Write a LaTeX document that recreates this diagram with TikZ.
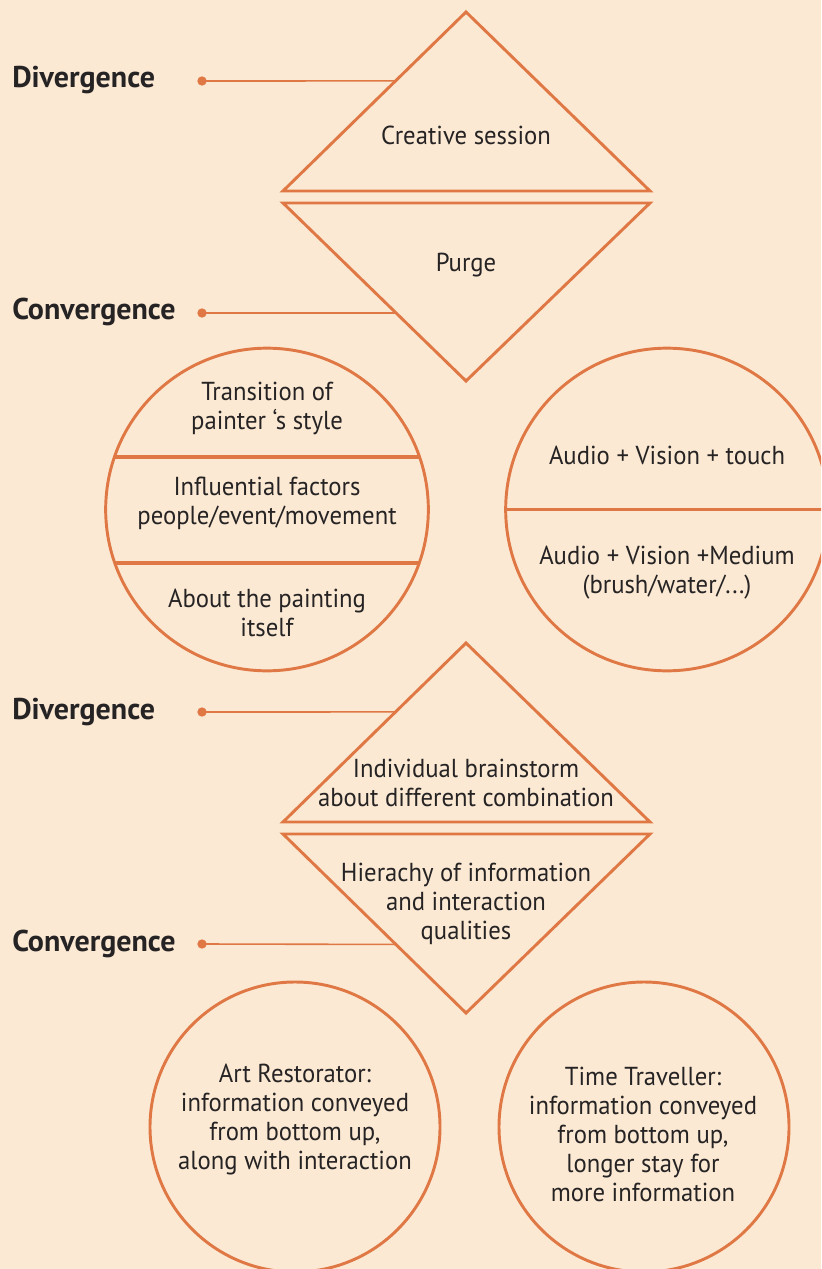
\documentclass[tikz,border=0pt]{standalone}
\usepackage{fontspec}
\setmainfont[FakeStretch=0.95]{PT Sans}
\newfontfamily\lblfont{PT Sans}
\usetikzlibrary{calc}
\definecolor{bg}{HTML}{FBE9D3}
\definecolor{org}{HTML}{E07845}
\definecolor{ink}{HTML}{262324}
\begin{document}
\begin{tikzpicture}[x=0.75pt,y=-0.75pt,
  shp/.style={draw=org, line width=2.2pt, line join=miter},
  divider/.style={draw=org, line width=2.8pt},
  leader/.style={draw=org, line width=1.2pt},
  dotn/.style={circle, fill=org, inner sep=0pt, minimum size=7pt},
  circ/.style={circle, draw=org, line width=2.2pt, inner sep=0pt},
  txt/.style={text=ink, font=\fontsize{19.5}{21.75}\selectfont, align=center, inner sep=0pt},
  lbl/.style={text=ink, font=\lblfont\bfseries\fontsize{22.5}{26}\selectfont, anchor=base west, inner sep=0pt}]
\clip (0,0) rectangle (821,1269);
\fill[bg] (0,0) rectangle (821,1269);

% ---- first diamond
\coordinate (t1a) at (466,12);
\coordinate (t1l) at (283,191);
\coordinate (t1r) at (650,191);
\draw[shp] (t1a) -- (t1r) -- (t1l) -- cycle;
\coordinate (t2l) at (283,203);
\coordinate (t2r) at (650,203);
\coordinate (t2b) at (466,381);
\draw[shp] (t2l) -- (t2r) -- (t2b) -- cycle;
\node[txt] (cs) at (466,135) {Creative session};
\node[txt] (pu) at (466,265) {Purge};

\node[lbl] (div1) at (12,88) {Divergence};
\node[dotn] (d1) at (202,81) {};
\coordinate (e1) at ($(t1a)!0.385!(t1l)$);
\draw[leader] (d1.center) -- (e1);
\node[lbl] (con1) at (12,320) {Convergence};
\node[dotn] (d2) at (202,313) {};
\coordinate (e2) at ($(t2l)!0.618!(t2b)$);
\draw[leader] (d2.center) -- (e2);

% ---- upper circles
\node[circ, minimum size=242pt] (c1) at (267,509.5) {};
\coordinate (c1a) at (115,457); \coordinate (c1b) at (419,457);
\coordinate (c1c) at (115,563); \coordinate (c1d) at (419,563);
\draw[divider] (c1a) -- (c1b);
\draw[divider] (c1c) -- (c1d);
\node[txt] (l1) at (267,408.5) {Transition of\\painter ‘s style};
\node[txt] (l2) at (267,503.5) {Influential factors\\people/event/movement};
\node[txt] (l3) at (267,612.5) {About the painting\\itself};

\node[circ, minimum size=242pt] (c2) at (667,509.5) {};
\coordinate (c2a) at (506,509.5); \coordinate (c2b) at (830,509.5);
\draw[divider] (c2a) -- (c2b);
\node[txt] (r1) at (667,455) {Audio + Vision + touch};
\node[txt] (r2) at (667,572.5) {Audio + Vision +Medium\\(brush/water/...)};

% ---- second diamond
\coordinate (t3a) at (466,643);
\coordinate (t3l) at (283,822);
\coordinate (t3r) at (650,822);
\draw[shp] (t3a) -- (t3r) -- (t3l) -- cycle;
\coordinate (t4l) at (283,834);
\coordinate (t4r) at (650,834);
\coordinate (t4b) at (466,1013);
\draw[shp] (t4l) -- (t4r) -- (t4b) -- cycle;
\node[txt] (ib) at (466,783) {Individual brainstorm\\about different combination};
\node[txt] (hi) at (466,903.5) {Hierachy of information\\and interaction\\qualities};

\node[lbl] (div2) at (12,719) {Divergence};
\node[dotn] (d3) at (202,712) {};
\coordinate (e3) at ($(t3a)!0.385!(t3l)$);
\draw[leader] (d3.center) -- (e3);
\node[lbl] (con2) at (12,951) {Convergence};
\node[dotn] (d4) at (202,944) {};
\coordinate (e4) at ($(t4l)!0.617!(t4b)$);
\draw[leader] (d4.center) -- (e4);

% ---- bottom circles
\node[circ, minimum size=217.5pt] (c3) at (295,1127) {};
\node[txt] (ar) at (295,1119.5) {Art Restorator:\\information conveyed\\from bottom up,\\along with interaction};
\node[circ, minimum size=217.5pt] (c4) at (644,1127) {};
\node[txt] (tt) at (643,1134.5) {Time Traveller:\\information conveyed\\from bottom up,\\longer stay for\\more information};
\end{tikzpicture}
\end{document}
